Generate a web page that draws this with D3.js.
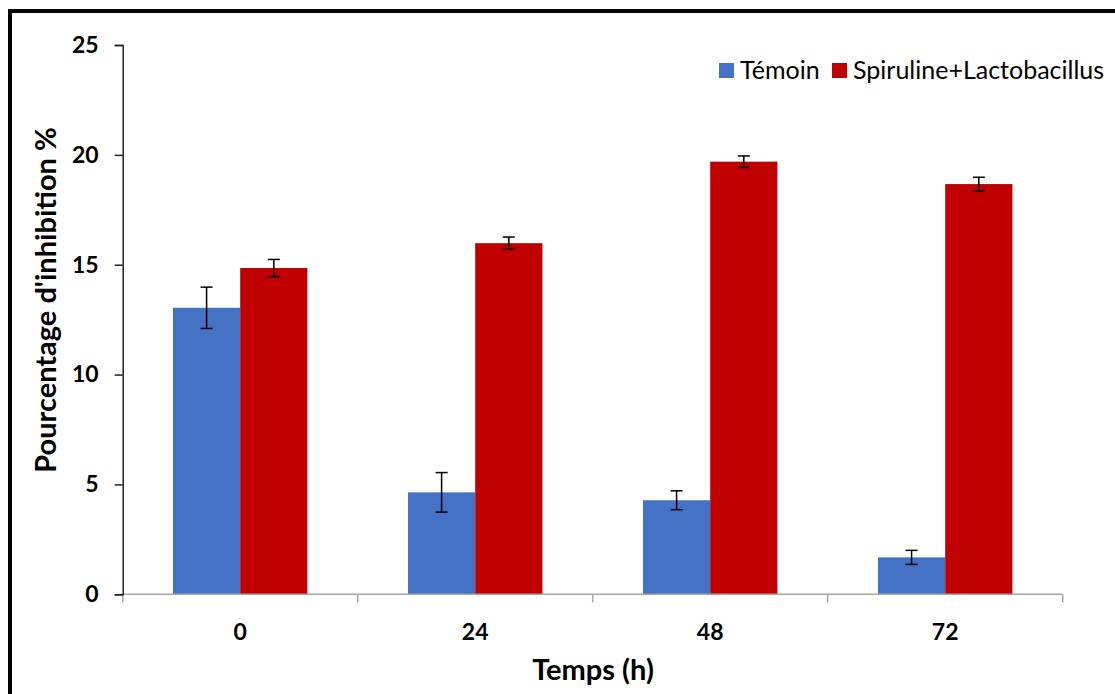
<!DOCTYPE html>
<html>
<head>
<meta charset="utf-8">
<script src="https://cdn.jsdelivr.net/npm/d3@7"></script>
<style>
  html, body { margin: 0; padding: 0; background: #fff; }
  svg { display: block; }
</style>
</head>
<body>
<svg id="chart" width="1115" height="694"></svg>
<script>
const categories = ["0", "24", "48", "72"];
const seriesNames = ["Témoin", "Spiruline+Lactobacillus"];
const temoin = [13.04, 4.64, 4.28, 1.68];
const temoinErr = [0.94, 0.90, 0.43, 0.32];
const spiruline = [14.85, 15.98, 19.69, 18.67];
const spirulineErr = [0.39, 0.28, 0.26, 0.31];
const yTicks = [0, 5, 10, 15, 20, 25];
const colors = ["#4472C4", "#C00000"];

const W = 1115, H = 694;
const plot = { left: 122.7, right: 1062.7, top: 45, bottom: 594.3 };
const font = "Lato, 'Open Sans', sans-serif";

const svg = d3.select("#chart");

// outer border
svg.append("rect")
  .attr("x", 10).attr("y", 11)
  .attr("width", W + 20).attr("height", H + 20)
  .attr("fill", "#fff").attr("stroke", "#000").attr("stroke-width", 4);

const x = d3.scaleBand().domain(categories)
  .range([plot.left, plot.right]).paddingInner(0.428).paddingOuter(0.214);
const xs = d3.scaleBand().domain(seriesNames).range([0, x.bandwidth()]);
const y = d3.scaleLinear().domain([0, 25]).range([plot.bottom, plot.top]);

const data = categories.map((c, i) => ({
  cat: c,
  vals: [
    { s: seriesNames[0], v: temoin[i], e: temoinErr[i], c: colors[0] },
    { s: seriesNames[1], v: spiruline[i], e: spirulineErr[i], c: colors[1] }
  ]
}));

const groups = svg.append("g").selectAll("g").data(data).join("g")
  .attr("transform", d => `translate(${x(d.cat)},0)`);

groups.selectAll("rect").data(d => d.vals).join("rect")
  .attr("x", d => xs(d.s))
  .attr("width", xs.bandwidth())
  .attr("y", d => y(d.v))
  .attr("height", d => y(0) - y(d.v))
  .attr("fill", d => d.c);

// error bars
const eb = groups.selectAll("g.err").data(d => d.vals).join("g").attr("class", "err");
const capW = 6;
eb.append("line")
  .attr("x1", d => xs(d.s) + xs.bandwidth() / 2).attr("x2", d => xs(d.s) + xs.bandwidth() / 2)
  .attr("y1", d => y(d.v + d.e)).attr("y2", d => y(d.v - d.e))
  .attr("stroke", "#000").attr("stroke-width", 1.5);
eb.append("line")
  .attr("x1", d => xs(d.s) + xs.bandwidth() / 2 - capW).attr("x2", d => xs(d.s) + xs.bandwidth() / 2 + capW)
  .attr("y1", d => y(d.v + d.e)).attr("y2", d => y(d.v + d.e))
  .attr("stroke", "#000").attr("stroke-width", 1.5);
eb.append("line")
  .attr("x1", d => xs(d.s) + xs.bandwidth() / 2 - capW).attr("x2", d => xs(d.s) + xs.bandwidth() / 2 + capW)
  .attr("y1", d => y(d.v - d.e)).attr("y2", d => y(d.v - d.e))
  .attr("stroke", "#000").attr("stroke-width", 1.5);

// x axis (category boundaries ticks)
const xAxisG = svg.append("g").attr("transform", `translate(0,${plot.bottom})`);
xAxisG.append("line")
  .attr("x1", plot.left).attr("x2", plot.right)
  .attr("stroke", "#a6a6a6").attr("stroke-width", 1.5);
const step = x.step();
const bounds = categories.map(c => x(c) - x.paddingOuter() * step).concat([plot.right]);
xAxisG.selectAll("line.tk").data(bounds).join("line").attr("class", "tk")
  .attr("x1", d => d).attr("x2", d => d).attr("y1", 0).attr("y2", 8)
  .attr("stroke", "#a6a6a6").attr("stroke-width", 1.5);
xAxisG.selectAll("text").data(categories).join("text")
  .attr("x", d => x(d) + x.bandwidth() / 2)
  .attr("y", 46)
  .attr("text-anchor", "middle")
  .attr("font-family", font).attr("font-weight", "bold").attr("font-size", 23)
  .attr("fill", "#000")
  .text(d => d);

// y axis
const yAxis = d3.axisLeft(y).tickValues(yTicks).tickSize(8).tickPadding(16).tickFormat(d3.format("d"));
const yAxisG = svg.append("g").attr("transform", `translate(${plot.left},0)`).call(yAxis);
yAxisG.select(".domain").attr("stroke", "#222").attr("stroke-width", 1.5);
yAxisG.selectAll(".tick line").attr("stroke", "#222").attr("stroke-width", 1.5);
yAxisG.selectAll(".tick text")
  .attr("font-family", font).attr("font-weight", "bold").attr("font-size", 23)
  .attr("fill", "#000");

// axis titles
svg.append("text")
  .attr("x", 593).attr("y", 680)
  .attr("text-anchor", "middle")
  .attr("font-family", font).attr("font-weight", "bold").attr("font-size", 29)
  .text("Temps (h)");
svg.append("text")
  .attr("transform", `translate(56,${(113 + 487) / 2}) rotate(-90)`)
  .attr("text-anchor", "middle")
  .attr("font-family", font).attr("font-weight", "bold").attr("font-size", 29)
  .text("Pourcentage d'inhibition %");

// legend
const legendItems = [
  { name: seriesNames[0], c: colors[0], x: 719 },
  { name: seriesNames[1], c: colors[1], x: 832 }
];
const lg = svg.append("g").selectAll("g").data(legendItems).join("g")
  .attr("transform", d => `translate(${d.x},63)`);
lg.append("rect").attr("width", 15).attr("height", 15).attr("fill", d => d.c);
lg.append("text").attr("x", 21).attr("y", 16)
  .attr("font-family", font).attr("font-size", 25).attr("fill", "#000")
  .text(d => d.name);
</script>
</body>
</html>
